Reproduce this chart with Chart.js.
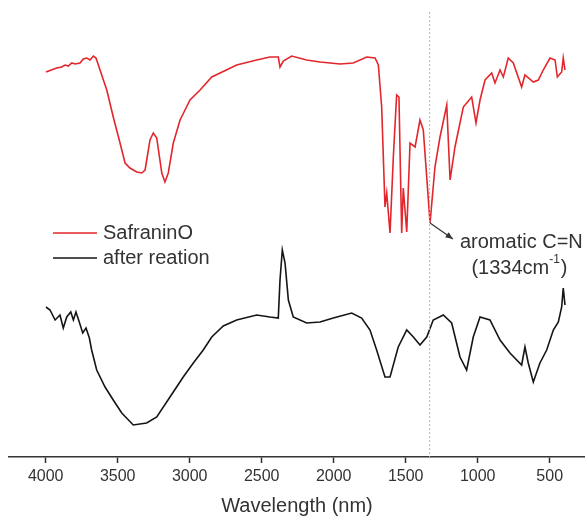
<!DOCTYPE html>
<html>
<head>
<meta charset="utf-8">
<script src="https://cdn.jsdelivr.net/npm/chart.js@4.4.1/dist/chart.umd.min.js"></script>
<style>
  html, body { margin: 0; padding: 0; background: #fff; }
  #wrap { width: 585px; height: 520px; }
</style>
</head>
<body>
<div id="wrap"><canvas id="irChart" width="585" height="520"></canvas></div>
<script>
// Spectra (x = wavenumber, y = transmittance, arbitrary units)
const redWavenumbers = [3998, 3924, 3889, 3866, 3843, 3819, 3796, 3762, 3739, 3715, 3692, 3669, 3651, 3639, 3623,
  3576, 3531, 3484, 3449, 3415, 3368, 3333, 3310, 3276, 3253, 3229, 3194, 3172, 3149, 3114, 3067, 2998, 2928,
  2847, 2789, 2674, 2535, 2443, 2385, 2373, 2350, 2292, 2188, 2095, 1956, 1864, 1771, 1713, 1690, 1667, 1644,
  1632, 1609, 1586, 1563, 1547, 1528, 1517, 1493, 1470, 1435, 1401, 1378, 1331, 1297, 1262, 1215, 1192, 1158,
  1100, 1042, 1012, 984, 949, 903, 880, 845, 822, 788, 753, 695, 672, 614, 579, 545, 498, 463, 447, 417, 406, 394];
const redValues = [385, 389, 390, 392, 391, 394, 393, 394, 398, 399, 397, 401, 399, 394, 387,
  367, 340, 314, 294, 289, 285, 284, 287, 317, 324, 319, 284, 275, 284, 314, 337, 357, 367,
  380, 384, 392, 397, 400, 400, 390, 396, 401, 397, 395, 393, 394, 400, 399, 392, 350, 250,
  264, 224, 300, 362, 360, 224, 269, 225, 314, 310, 337, 327, 234, 290, 320, 352, 277, 310,
  350, 360, 334, 357, 377, 384, 374, 387, 380, 399, 394, 370, 382, 375, 377, 387, 399, 397, 380, 385, 399, 387];

const blackWavenumbers = [3998, 3970, 3935, 3901, 3878, 3854, 3826, 3808, 3790, 3767, 3743, 3720, 3697, 3681,
  3646, 3588, 3531, 3472,
  3392, 3299, 3229, 3137, 3045, 2975, 2906, 2847, 2767, 2674, 2535, 2443, 2385, 2373, 2357, 2338, 2315, 2281,
  2188, 2095, 2003, 1875, 1806, 1748, 1702, 1644, 1609, 1552, 1493, 1447, 1401, 1354, 1309, 1239, 1181, 1123,
  1077, 1031, 984, 915, 845, 776, 695, 672, 649, 614, 568, 521, 475, 440, 417, 406, 394];
const blackValues = [150, 147, 137, 142, 129, 140, 145, 137, 145, 135, 124, 129, 119, 107,
  87, 70, 57, 44,
  32, 34, 40, 60, 80, 94, 107, 120, 131, 137, 142, 140, 139, 177, 207, 194, 157, 140,
  134, 135, 139, 144, 139, 127, 107, 80, 80, 110, 127, 120, 112, 120, 137, 142, 134, 100,
  87, 120, 140, 137, 117, 104, 92, 110, 94, 75, 94, 107, 127, 135, 150, 169, 152];

const seriesLabels = ['SafraninO', 'after reation'];
const xTickValues = [4000, 3500, 3000, 2500, 2000, 1500, 1000, 500];

// C=N band marker and its callout
const markerWavenumber = 1334;
const markerTopValue = 445;
const arrowStart = { x: 1331, y: 234 };
const arrowEnd = { x: 1172, y: 218 };
const calloutLine1 = 'aromatic C=N';
const calloutLine2 = ['(1334cm', '-1', ')'];

const FONT = "'Liberation Sans', Arial, sans-serif";
const INK = '#333333';

function toPoints(xs, ys) {
  return xs.map((x, i) => ({ x: x, y: ys[i] }));
}

// draws the dotted marker, the arrow and the callout text
const calloutPlugin = {
  id: 'callout',
  afterDatasetsDraw(chart) {
    const { ctx, scales: { x, y }, chartArea } = chart;
    ctx.save();

    // dotted vertical line
    const mx = x.getPixelForValue(markerWavenumber);
    ctx.strokeStyle = '#b5b5b5';
    ctx.lineWidth = 1;
    ctx.setLineDash([2, 2]);
    ctx.beginPath();
    ctx.moveTo(mx, y.getPixelForValue(markerTopValue));
    ctx.lineTo(mx, chartArea.bottom);
    ctx.stroke();
    ctx.setLineDash([]);

    // arrow
    const x1 = x.getPixelForValue(arrowStart.x), y1 = y.getPixelForValue(arrowStart.y);
    const x2 = x.getPixelForValue(arrowEnd.x), y2 = y.getPixelForValue(arrowEnd.y);
    ctx.strokeStyle = INK;
    ctx.fillStyle = INK;
    ctx.lineWidth = 1.2;
    ctx.beginPath();
    ctx.moveTo(x1, y1);
    ctx.lineTo(x2, y2);
    ctx.stroke();
    const ang = Math.atan2(y2 - y1, x2 - x1);
    const head = 8;
    ctx.beginPath();
    ctx.moveTo(x2, y2);
    ctx.lineTo(x2 - head * Math.cos(ang - 0.4), y2 - head * Math.sin(ang - 0.4));
    ctx.lineTo(x2 - head * Math.cos(ang + 0.4), y2 - head * Math.sin(ang + 0.4));
    ctx.closePath();
    ctx.fill();

    // text
    ctx.textBaseline = 'middle';
    ctx.textAlign = 'left';
    ctx.font = '20px ' + FONT;
    ctx.fillText(calloutLine1, x2 + 7, y2 + 3);

    const big = '20px ' + FONT, small = '12px ' + FONT;
    ctx.font = big;
    const w1 = ctx.measureText(calloutLine2[0]).width;
    const w3 = ctx.measureText(calloutLine2[2]).width;
    ctx.font = small;
    const w2 = ctx.measureText(calloutLine2[1]).width;
    let tx = x2 + 66 - (w1 + w2 + w3) / 2;
    const ty = y2 + 29;
    ctx.font = big;
    ctx.fillText(calloutLine2[0], tx, ty);
    tx += w1;
    ctx.font = small;
    ctx.fillText(calloutLine2[1], tx, ty - 8);
    tx += w2 + 1;
    ctx.font = big;
    ctx.fillText(calloutLine2[2], tx, ty);

    ctx.restore();
  }
};

// legend drawn inside the plot, at the left
const legendPlugin = {
  id: 'innerLegend',
  afterDraw(chart) {
    const { ctx } = chart;
    ctx.save();
    ctx.font = '20px ' + FONT;
    ctx.textBaseline = 'middle';
    chart.data.datasets.forEach((ds, i) => {
      const ly = 233 + i * 25;
      ctx.strokeStyle = ds.borderColor;
      ctx.lineWidth = 1.6;
      ctx.beginPath();
      ctx.moveTo(53, ly);
      ctx.lineTo(97, ly);
      ctx.stroke();
      ctx.fillStyle = INK;
      ctx.fillText(ds.label, 103, ly);
    });
    ctx.restore();
  }
};

const ctx = document.getElementById('irChart').getContext('2d');
new Chart(ctx, {
  type: 'line',
  data: {
    datasets: [
      {
        label: seriesLabels[0],
        data: toPoints(redWavenumbers, redValues),
        borderColor: '#e3262b',
        borderWidth: 1.6,
        pointRadius: 0,
        tension: 0,
        fill: false
      },
      {
        label: seriesLabels[1],
        data: toPoints(blackWavenumbers, blackValues),
        borderColor: '#151515',
        borderWidth: 1.6,
        pointRadius: 0,
        tension: 0,
        fill: false
      }
    ]
  },
  options: {
    responsive: false,
    animation: false,
    layout: { padding: { left: 9, right: 0, top: 0, bottom: 0 } },
    plugins: {
      legend: { display: false },
      tooltip: { enabled: false }
    },
    scales: {
      x: {
        type: 'linear',
        reverse: true,
        min: 255,
        max: 4255,
        afterBuildTicks: (axis) => {
          axis.ticks = xTickValues.map(v => ({ value: v }));
        },
        afterFit: (axis) => { axis.height = 63; },
        border: { display: true, color: INK, width: 1.5 },
        grid: { drawOnChartArea: false, drawTicks: true, tickLength: 6, tickColor: INK, tickWidth: 1.5 },
        ticks: {
          color: INK,
          padding: 4,
          maxRotation: 0,
          font: { family: FONT, size: 16 },
          callback: (v) => String(v)
        },
        title: {
          display: true,
          text: 'Wavelength (nm)',
          color: INK,
          padding: { top: 0, bottom: 2 },
          font: { family: FONT, size: 20 }
        }
      },
      y: {
        display: false,
        min: 0,
        max: 457
      }
    }
  },
  plugins: [calloutPlugin, legendPlugin]
});
</script>
</body>
</html>
